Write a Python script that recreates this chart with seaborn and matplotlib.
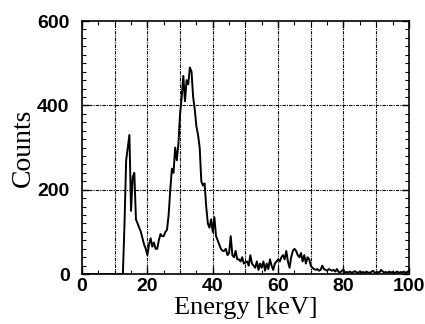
import numpy as np
import pandas as pd
import matplotlib
matplotlib.use("Agg")
import matplotlib.pyplot as plt
import seaborn as sns
from matplotlib.ticker import MultipleLocator

# spectrum, 0.5 keV bins starting at 12.5 keV
start_kev = 12.5
step_kev = 0.5
counts = [
    0, 120, 270, 300, 330, 150, 230, 240, 130, 120,      # 12.5 - 17.0
    110, 100, 85, 70, 60, 45, 70, 85, 65, 75,            # 17.5 - 22.0
    60, 60, 80, 95, 90, 90, 100, 105, 140, 200,          # 22.5 - 27.0
    250, 240, 300, 270, 310, 380, 420, 470, 410, 460,    # 27.5 - 32.0
    450, 490, 480, 420, 390, 350, 330, 300, 220, 210,    # 32.5 - 37.0
    215, 160, 120, 110, 130, 100, 135, 90, 80, 70,       # 37.5 - 42.0
    60, 55, 55, 60, 45, 50, 90, 45, 40, 55,              # 42.5 - 47.0
    35, 35, 30, 40, 25, 28, 30, 20, 45, 25,              # 47.5 - 52.0
    20, 15, 30, 10, 25, 15, 30, 8, 25, 12,               # 52.5 - 57.0
    35, 20, 10, 25, 30, 35, 30, 40, 45, 35,              # 57.5 - 62.0
    55, 30, 15, 40, 55, 60, 55, 45, 40, 50,              # 62.5 - 67.0
    30, 45, 25, 40, 35, 20, 15, 12, 10, 12,              # 67.5 - 72.0
    8, 10, 20, 12, 10, 8, 12, 10, 8, 10,                 # 72.5 - 77.0
    6, 12, 5, 4, 8, 10, 3, 5, 4, 6,                      # 77.5 - 82.0
    3, 5, 7, 4, 3, 6, 4, 5, 3, 6,                        # 82.5 - 87.0
    4, 3, 5, 8, 4, 3, 5, 4, 10, 6,                       # 87.5 - 92.0
    4, 5, 3, 6, 4, 5, 3, 4, 6, 3,                        # 92.5 - 97.0
    5, 4, 6, 3, 5, 8,                                    # 97.5 - 100.0
]
energy = [0.0, start_kev - 0.01] + [start_kev + i * step_kev for i in range(len(counts))]
counts = [0, 0] + counts

df = pd.DataFrame({"Energy": energy, "Counts": counts})

sns.set_style("ticks")
fig = plt.figure(figsize=(4.25, 3.24), dpi=100)
ax = fig.add_axes([0.193, 0.154, 0.769, 0.781])

sns.lineplot(data=df, x="Energy", y="Counts", ax=ax, color="black", linewidth=1.4)

ax.set_xlim(0, 100)
ax.set_ylim(0, 600)
ax.xaxis.set_major_locator(MultipleLocator(20))
ax.xaxis.set_minor_locator(MultipleLocator(5))
ax.yaxis.set_major_locator(MultipleLocator(200))
ax.yaxis.set_minor_locator(MultipleLocator(20))

for x in range(10, 100, 10):
    ax.axvline(x, color="black", linestyle=(0, (3, 1, 1, 1)), linewidth=0.8)
for y in (200, 400):
    ax.axhline(y, color="black", linestyle=(0, (3, 1, 1, 1)), linewidth=0.8)

ax.tick_params(which="both", direction="in", top=True, right=True, color="black")
ax.tick_params(which="major", length=5, width=1)
ax.tick_params(which="minor", length=3, width=0.8)
ax.tick_params(axis="y", which="major", pad=9)
ax.tick_params(axis="x", which="major", pad=3)
for sp in ax.spines.values():
    sp.set_color("black")
    sp.set_linewidth(1.2)

for lab in ax.get_xticklabels() + ax.get_yticklabels():
    lab.set_family(["Liberation Sans", "DejaVu Sans"])
    lab.set_fontweight("bold")
    lab.set_fontsize(14)
    lab.set_color("black")

ax.set_xlabel("Energy [keV]", family=["Liberation Serif", "DejaVu Serif"], fontsize=19, color="black")
ax.set_ylabel("Counts", family=["Liberation Serif", "DejaVu Serif"], fontsize=20, color="black")
ax.xaxis.set_label_coords(0.5, -0.09)
ax.yaxis.set_label_coords(-0.14, 0.5)

fig.savefig("out.png", dpi=100)
